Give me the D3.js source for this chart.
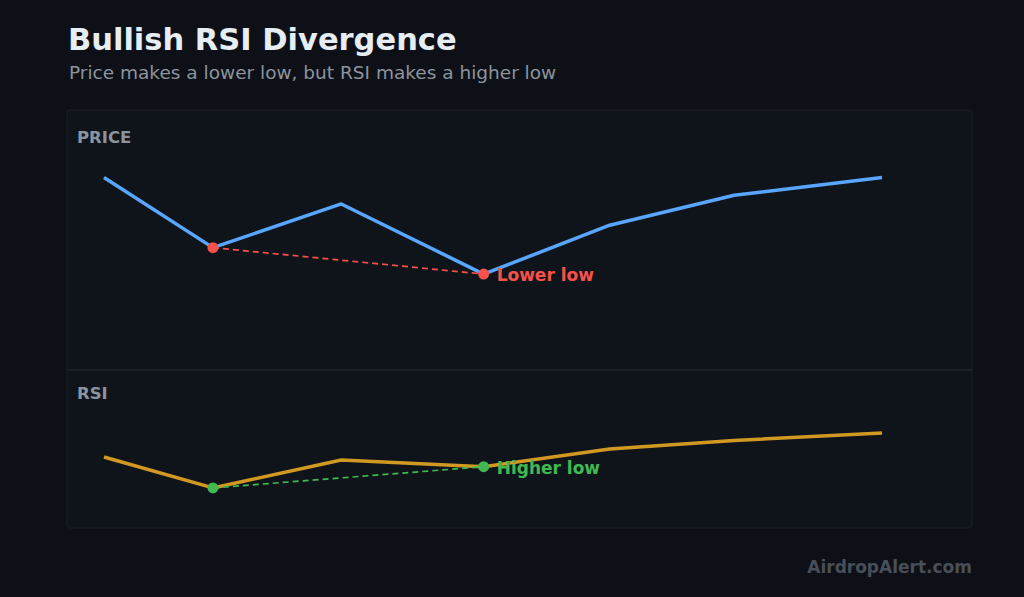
<!DOCTYPE html>
<html>
<head>
<meta charset="utf-8">
<script src="https://cdn.jsdelivr.net/npm/d3@7"></script>
<style>
  html, body { margin: 0; padding: 0; background: #0d1117; }
  svg { display: block; font-family: "DejaVu Sans", sans-serif; }
</style>
</head>
<body>
<svg id="chart"></svg>
<script>
// time steps (uneven spacing)
const steps = [0, 14, 30.5, 48.8, 65, 81, 100];
const price = [105, 98.9, 102.7, 96.6, 100.85, 103.45, 105];
const rsi = [49.1, 34.8, 47.7, 44.6, 52.8, 56.7, 60.2];
// indexes of the two lows being compared
const lows = [1, 3];

const width = 1024;
const height = 597;

const svg = d3.select("#chart")
    .attr("width", width)
    .attr("height", height);

svg.append("rect")
    .attr("width", width)
    .attr("height", height)
    .attr("fill", "#0d1016");

// title block
svg.append("text")
    .attr("x", 68)
    .attr("y", 50)
    .attr("fill", "#e6edf3")
    .style("font-size", "30.5px")
    .style("font-weight", "bold")
    .text("Bullish RSI Divergence");

svg.append("text")
    .attr("x", 69)
    .attr("y", 79)
    .attr("fill", "#8b949e")
    .style("font-size", "18.5px")
    .text("Price makes a lower low, but RSI makes a higher low");

// panel background
const panel = { left: 67, right: 972, top: 110, mid: 370, bottom: 528 };

svg.append("rect")
    .attr("x", panel.left)
    .attr("y", panel.top)
    .attr("width", panel.right - panel.left)
    .attr("height", panel.bottom - panel.top)
    .attr("rx", 3)
    .attr("fill", "#0f141b")
    .attr("stroke", "#1a1f27")
    .attr("stroke-width", 1);

svg.append("line")
    .attr("x1", panel.left)
    .attr("x2", panel.right)
    .attr("y1", panel.mid)
    .attr("y2", panel.mid)
    .attr("stroke", "#1f252e")
    .attr("stroke-width", 1.5);

// scales
const x = d3.scaleLinear().domain([0, 100]).range([104, 882]);
const yPrice = d3.scaleLinear().domain([90, 110]).range([350, 120]);
const yRsi = d3.scaleLinear().domain([20, 80]).range([520, 390]);

function drawPane(values, y, label, labelY, lineColor, markColor, note) {
    svg.append("text")
        .attr("x", 77)
        .attr("y", labelY)
        .attr("fill", "#8b949e")
        .style("font-size", "16.5px")
        .style("font-weight", "bold")
        .text(label);

    const line = d3.line()
        .x((d, i) => x(steps[i]))
        .y(d => y(d));

    svg.append("path")
        .datum(values)
        .attr("d", line)
        .attr("fill", "none")
        .attr("stroke", lineColor)
        .attr("stroke-width", 3.5)
        .attr("stroke-linejoin", "round");

    // dashed line joining the two lows
    svg.append("line")
        .attr("x1", x(steps[lows[0]]))
        .attr("y1", y(values[lows[0]]))
        .attr("x2", x(steps[lows[1]]))
        .attr("y2", y(values[lows[1]]))
        .attr("stroke", markColor)
        .attr("stroke-width", 1.7)
        .attr("stroke-dasharray", "6,4");

    svg.selectAll(null)
        .data(lows)
        .enter().append("circle")
        .attr("cx", i => x(steps[i]))
        .attr("cy", i => y(values[i]))
        .attr("r", 5.5)
        .attr("fill", markColor);

    svg.append("text")
        .attr("x", x(steps[lows[1]]) + 13)
        .attr("y", y(values[lows[1]]) + 7)
        .attr("fill", markColor)
        .style("font-size", "17px")
        .style("font-weight", "bold")
        .text(note);
}

drawPane(price, yPrice, "PRICE", 143, "#58a6ff", "#f85149", "Lower low");
drawPane(rsi, yRsi, "RSI", 399, "#d29922", "#3fb950", "Higher low");

// watermark
svg.append("text")
    .attr("x", 972)
    .attr("y", 573)
    .attr("text-anchor", "end")
    .attr("fill", "#484f58")
    .style("font-size", "17px")
    .style("font-weight", "bold")
    .text("AirdropAlert.com");
</script>
</body>
</html>
